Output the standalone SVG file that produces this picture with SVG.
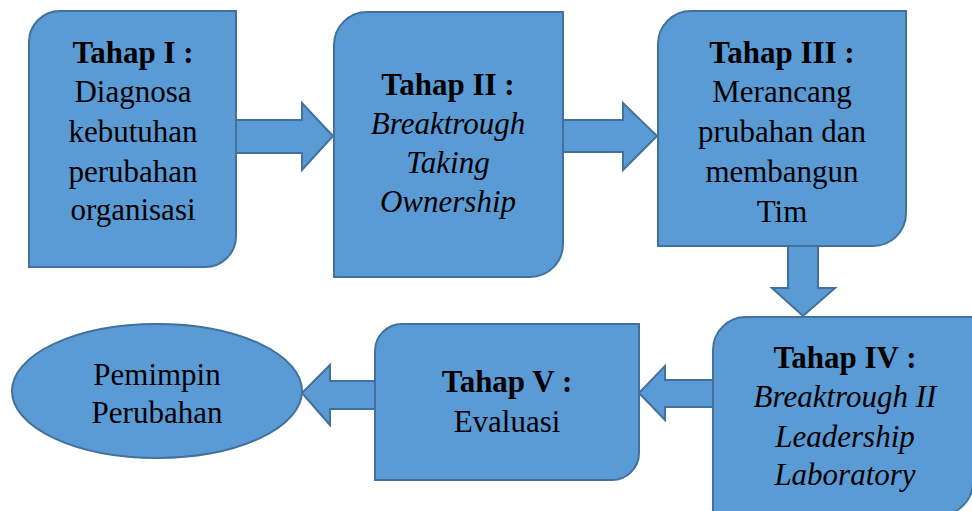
<svg xmlns="http://www.w3.org/2000/svg" width="972" height="511" viewBox="0 0 972 511">
<style>
.shape{fill:#5B9BD5;stroke:#41719C;stroke-width:2;stroke-linejoin:miter}
text{font-family:"Liberation Serif","Times New Roman",serif;font-size:31px;fill:#000;text-anchor:middle}
.b{font-weight:bold}
.i{font-style:italic}
</style>
<rect width="972" height="511" fill="#fff"/>
<g id="connectors">
<polygon class="shape" points="236,120 302,120 302,103 333,136 302,170 302,153 236,153"/>
<polygon class="shape" points="563,120 623,120 623,103 657,136 623,170 623,152 563,152"/>
<polygon class="shape" points="788,246 818,246 818,288 835,288 803,316 772,288 788,288"/>
<polygon class="shape" points="713,380 665,380 665,366 639,393 665,420 665,407 713,407"/>
<polygon class="shape" points="375,381 330,381 330,365 302,393 330,425 330,409 375,409"/>
</g>
<g id="tahap1">
<path class="shape" d="M60,11 H236 V236 A31,31 0 0 1 205,267 H29 V42 A31,31 0 0 1 60,11 Z"/>
<text x="133" y="63" class="b">Tahap I :</text>
<text x="133" y="102">Diagnosa</text>
<text x="133" y="142">kebutuhan</text>
<text x="133" y="182">perubahan</text>
<text x="133" y="220">organisasi</text>
</g>
<g id="tahap2">
<path class="shape" d="M367,12 H563 V244 A33,33 0 0 1 530,277 H334 V45 A33,33 0 0 1 367,12 Z"/>
<text x="448" y="95" class="b">Tahap II :</text>
<text x="448" y="134" class="i">Breaktrough</text>
<text x="448" y="173" class="i">Taking</text>
<text x="448" y="212" class="i">Ownership</text>
</g>
<g id="tahap3">
<path class="shape" d="M691,11 H906 V213 A33,33 0 0 1 873,246 H658 V44 A33,33 0 0 1 691,11 Z"/>
<text x="782" y="63" class="b">Tahap III :</text>
<text x="782" y="102">Merancang</text>
<text x="782" y="142">prubahan dan</text>
<text x="782" y="182">membangun</text>
<text x="782" y="222">Tim</text>
</g>
<g id="tahap4">
<path class="shape" d="M746,317 H973 V482 A33,33 0 0 1 940,515 H713 V350 A33,33 0 0 1 746,317 Z"/>
<text x="845" y="368" class="b">Tahap IV :</text>
<text x="845" y="407" class="i">Breaktrough II</text>
<text x="845" y="447" class="i">Leadership</text>
<text x="845" y="485" class="i">Laboratory</text>
</g>
<g id="tahap5">
<path class="shape" d="M402,324 H639 V453 A27,27 0 0 1 612,480 H375 V351 A27,27 0 0 1 402,324 Z"/>
<text x="507" y="392" class="b">Tahap V :</text>
<text x="507" y="432">Evaluasi</text>
</g>
<g id="pemimpin">
<ellipse class="shape" cx="157" cy="391" rx="145" ry="67"/>
<text x="157" y="385">Pemimpin</text>
<text x="157" y="423">Perubahan</text>
</g>
</svg>
